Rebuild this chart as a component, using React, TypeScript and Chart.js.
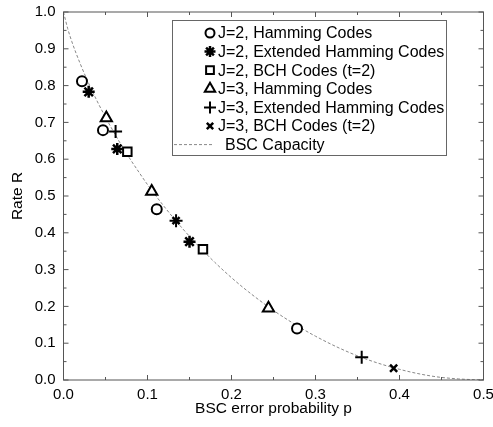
import React, { useEffect, useRef } from 'react';
import { Chart, registerables } from 'chart.js';
import { drawPoint } from 'chart.js/helpers';

Chart.register(...registerables);

// ---- data ----
const j2HammingP = [0.022, 0.047, 0.111, 0.278];
const j2HammingR = [0.812, 0.679, 0.464, 0.14];
const j2ExtP = [0.03, 0.064, 0.15];
const j2ExtR = [0.783, 0.628, 0.376];
const j2BchP = [0.076, 0.166];
const j2BchR = [0.62, 0.355];
const j3HammingP = [0.051, 0.105, 0.244];
const j3HammingR = [0.712, 0.512, 0.195];
const j3ExtP = [0.062, 0.134, 0.355];
const j3ExtR = [0.675, 0.433, 0.062];
const j3BchP = [0.134, 0.393];
const j3BchR = [0.433, 0.032];

const capacityP = [0, 0.005, 0.01, 0.02, 0.03, 0.04, 0.05, 0.06, 0.07, 0.08, 0.09, 0.1, 0.12, 0.14, 0.16, 0.18, 0.2, 0.22, 0.25, 0.28, 0.3, 0.33, 0.36, 0.4, 0.44, 0.47, 0.5];
const capacityR = [1, 0.955, 0.919, 0.859, 0.806, 0.758, 0.714, 0.673, 0.634, 0.598, 0.564, 0.531, 0.471, 0.416, 0.366, 0.32, 0.278, 0.24, 0.189, 0.145, 0.119, 0.085, 0.057, 0.029, 0.01, 0.003, 0];

const seriesLabels = [
  'J=2, Hamming Codes',
  'J=2, Extended Hamming Codes',
  'J=2, BCH Codes (t=2)',
  'J=3, Hamming Codes',
  'J=3, Extended Hamming Codes',
  'J=3, BCH Codes (t=2)',
  'BSC Capacity',
];
const xTitle = 'BSC error probability p';
const yTitle = 'Rate R';

const FONT = "'Liberation Sans', Arial, Helvetica, sans-serif";

const pts = (xs: number[], ys: number[]) => xs.map((x, i) => ({ x, y: ys[i] }));

const markerDefs = [
  { style: 'circle', radius: 5, width: 2 },
  { style: 'star', radius: 6, width: 2.5 },
  { style: 'rect', radius: 6, width: 2 },
  { style: 'triangle', radius: 6.5, width: 2 },
  { style: 'cross', radius: 6.5, width: 2 },
  { style: 'crossRot', radius: 5, width: 2.5 },
];

const framePlugin = {
  id: 'frameAndLegend',
  afterDraw(chart: any) {
    const { ctx, chartArea } = chart;
    const xs = chart.scales.x;
    const ys = chart.scales.y;
    const { left, right, top, bottom } = chartArea;
    ctx.save();
    ctx.strokeStyle = '#555';
    ctx.lineWidth = 1;
    ctx.strokeRect(left, top, right - left, bottom - top);
    // inward ticks
    for (let i = 0; i <= 10; i++) {
      const v = i * 0.05;
      const px = xs.getPixelForValue(v);
      const len = i % 2 === 0 ? 5 : 3;
      ctx.beginPath();
      ctx.moveTo(px, bottom);
      ctx.lineTo(px, bottom - len);
      ctx.moveTo(px, top);
      ctx.lineTo(px, top + len);
      ctx.stroke();
    }
    for (let i = 0; i <= 20; i++) {
      const v = i * 0.05;
      const py = ys.getPixelForValue(v);
      const len = i % 2 === 0 ? 5 : 3;
      ctx.beginPath();
      ctx.moveTo(left, py);
      ctx.lineTo(left + len, py);
      ctx.moveTo(right, py);
      ctx.lineTo(right - len, py);
      ctx.stroke();
    }
    // legend
    const bx = 172.5, by = 20.5, bw = 274, bh = 135;
    ctx.fillStyle = '#fff';
    ctx.fillRect(bx, by, bw, bh);
    ctx.strokeStyle = '#666';
    ctx.strokeRect(bx, by, bw, bh);
    ctx.font = `16px ${FONT}`;
    ctx.textBaseline = 'middle';
    ctx.textAlign = 'left';
    chart.data.datasets.forEach((ds: any, i: number) => {
      const y = 33 + i * 18.6;
      if (i < markerDefs.length) {
        const m = markerDefs[i];
        ctx.strokeStyle = '#000';
        ctx.fillStyle = '#fff';
        ctx.lineWidth = m.width;
        drawPoint(ctx, { pointStyle: m.style, radius: m.radius - 0.5, borderWidth: m.width, rotation: 0 } as any, 210, y);
        ctx.fillStyle = '#000';
        ctx.fillText(ds.label, 218, y + 1);
      } else {
        ctx.strokeStyle = '#888';
        ctx.lineWidth = 1;
        ctx.setLineDash([3, 2]);
        ctx.beginPath();
        ctx.moveTo(174, y);
        ctx.lineTo(212, y);
        ctx.stroke();
        ctx.setLineDash([]);
        ctx.fillStyle = '#000';
        ctx.fillText(ds.label, 225, y + 1);
      }
    });
    ctx.restore();
  },
};

export default function App() {
  const ref = useRef<HTMLCanvasElement>(null);
  useEffect(() => {
    document.body.style.margin = '0';
    const canvas = ref.current!;
    const seriesX = [j2HammingP, j2ExtP, j2BchP, j3HammingP, j3ExtP, j3BchP];
    const seriesY = [j2HammingR, j2ExtR, j2BchR, j3HammingR, j3ExtR, j3BchR];
    const datasets: any[] = seriesX.map((xs, i) => ({
      type: 'scatter',
      label: seriesLabels[i],
      data: pts(xs, seriesY[i]),
      pointStyle: markerDefs[i].style,
      pointRadius: markerDefs[i].radius,
      pointBorderWidth: markerDefs[i].width,
      pointBorderColor: '#000',
      pointBackgroundColor: '#fff',
      showLine: false,
    }));
    datasets.push({
      type: 'line',
      label: seriesLabels[6],
      data: pts(capacityP, capacityR),
      borderColor: '#888',
      borderWidth: 1,
      borderDash: [3, 2],
      pointRadius: 0,
      fill: false,
      cubicInterpolationMode: 'monotone',
    });
    const chart = new Chart(canvas, {
      type: 'scatter',
      data: { datasets },
      options: {
        animation: false,
        responsive: false,
        devicePixelRatio: 1,
        layout: { padding: { top: 12, right: 9.5, left: 0, bottom: 0 } },
        plugins: { legend: { display: false }, tooltip: { enabled: false } },
        scales: {
          x: {
            type: 'linear',
            min: 0,
            max: 0.5,
            grid: { display: false, drawTicks: false },
            border: { display: false },
            ticks: {
              stepSize: 0.1,
              padding: 6,
              color: '#000',
              font: { family: FONT, size: 15 },
              callback: (v: any) => Number(v).toFixed(1),
              maxRotation: 0,
            },
            title: {
              display: true,
              text: xTitle,
              color: '#000',
              font: { family: FONT, size: 15.5 },
              padding: { top: 0, bottom: 9 },
            },
            afterFit: (s: any) => {
              s.height = 47;
              s.paddingLeft = 0;
              s.paddingRight = 0;
            },
          },
          y: {
            type: 'linear',
            min: 0,
            max: 1,
            grid: { display: false, drawTicks: false },
            border: { display: false },
            ticks: {
              stepSize: 0.1,
              padding: 8,
              color: '#000',
              font: { family: FONT, size: 15 },
              callback: (v: any) => Number(v).toFixed(1),
            },
            title: {
              display: true,
              text: yTitle,
              color: '#000',
              font: { family: FONT, size: 15.5 },
              padding: { top: 8, bottom: 0 },
            },
            afterFit: (s: any) => {
              s.width = 63.5;
              s.paddingTop = 0;
              s.paddingBottom = 0;
            },
          },
        },
      },
      plugins: [framePlugin],
    } as any);
    return () => chart.destroy();
  }, []);
  return (
    <div style={{ width: 493, height: 427, background: '#fff' }}>
      <canvas ref={ref} width={493} height={427} style={{ display: 'block' }} />
    </div>
  );
}
